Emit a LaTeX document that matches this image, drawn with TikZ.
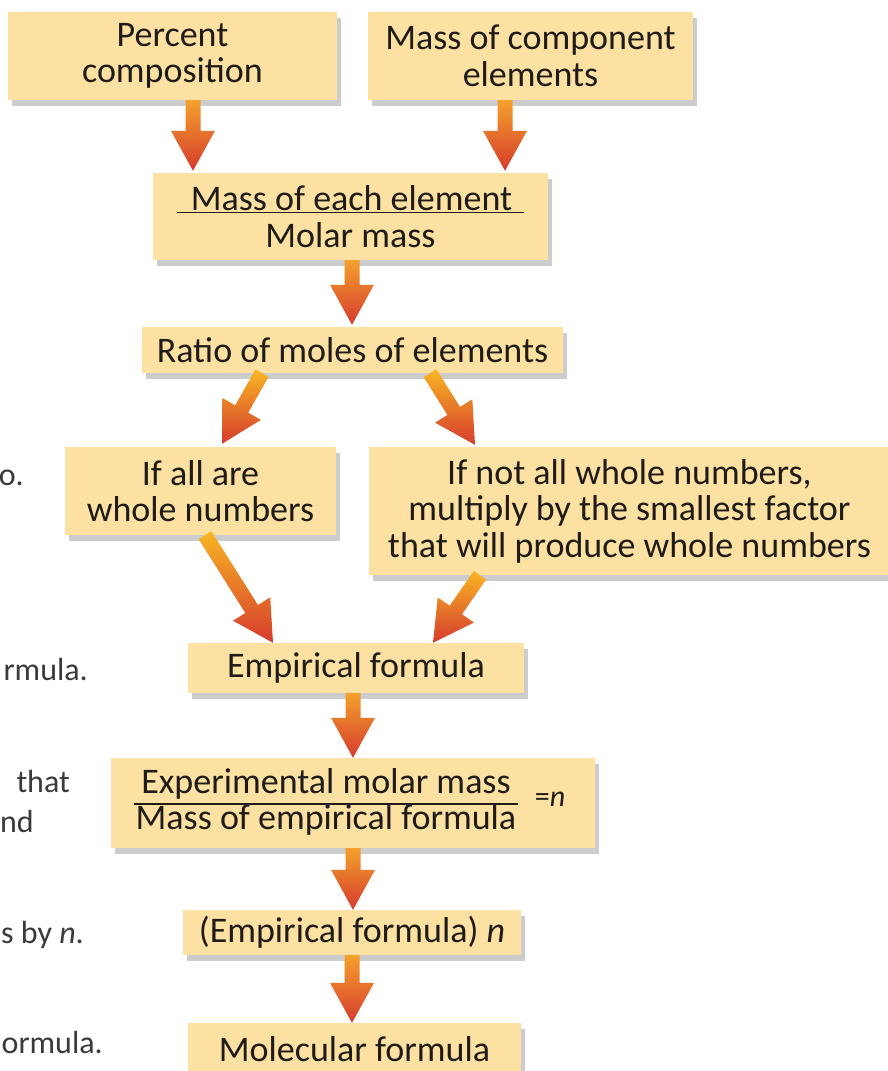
\documentclass[tikz,border=0pt]{standalone}
\usepackage{fontspec}
\setmainfont{Carlito}
\usetikzlibrary{calc,shadows}
\definecolor{boxfill}{HTML}{FCE1A3}
\definecolor{ink}{HTML}{1F1B18}
\definecolor{sidegray}{HTML}{3A3A3A}
\definecolor{arrtop}{HTML}{F4A02C}
\definecolor{arrtopy}{HTML}{F8B624}
\definecolor{arrmid}{HTML}{EC7A2E}
\definecolor{arrbot}{HTML}{D63B2D}
\tikzset{
  box/.style={fill=boxfill, draw=none, inner sep=0pt, align=center, text=ink,
    font=\fontsize{36}{36.5}\selectfont,
    drop shadow={shadow xshift=4pt, shadow yshift=-6pt, fill=black, opacity=0.2}},
  plaintext/.style={inner sep=0pt, text=ink, font=\fontsize{36}{36.5}\selectfont},
  sidetext/.style={anchor=base east, inner sep=0pt, text=sidegray, font=\fontsize{32}{36}\selectfont},
}
\newcommand{\fatarrow}[3][arrtop]{%
  \coordinate (fa-s) at #2;
  \coordinate (fa-t) at #3;
  \coordinate (fa-h) at ($(fa-t)!40pt!(fa-s)$);
  \shade[top color=#1, middle color=arrmid, bottom color=arrbot]
    ($(fa-s)!7.5pt!90:(fa-t)$) -- ($(fa-h)!7.5pt!90:(fa-t)$) -- ($(fa-h)!22pt!90:(fa-t)$)
    -- (fa-t) -- ($(fa-h)!22pt!-90:(fa-t)$) -- ($(fa-h)!7.5pt!-90:(fa-t)$)
    -- ($(fa-s)!7.5pt!-90:(fa-t)$) -- cycle;
}
\begin{document}
\begin{tikzpicture}[x=1pt,y=-1pt]
\useasboundingbox (0,0) rectangle (888,1071);
\fill[white] (0,0) rectangle (888,1071);
\clip (0,0) rectangle (888,1071);

% boxes
\node[box, minimum width=329pt, minimum height=88pt] (pc) at (172.5,56) {Percent\\composition};
\node[box, minimum width=325pt, minimum height=88pt] (mc) at (530.5,56) {Mass of component\\elements};
\node[box, minimum width=395pt, minimum height=87pt] (me) at (350.5,216.5)
  {\underline{\hspace{14pt}Mass of each element\hspace{12pt}}\\Molar mass};
\node[box, minimum width=421pt, minimum height=46pt] (ratio) at (352.5,350) {Ratio of moles of elements};
\node[box, minimum width=271pt, minimum height=88pt] (all) at (200.5,491) {If all are\\whole numbers};
\node[box, minimum width=521pt, minimum height=128pt] (notall) at (629.5,511)
  {If not all whole numbers,\\multiply by the smallest factor\\that will produce whole numbers};
\node[box, minimum width=336pt, minimum height=50pt] (emp) at (356,668) {Empirical formula};
\node[box, minimum width=484pt, minimum height=90pt] (exp) at (353,803) {};
\node[plaintext] (expfrac) at (326,804) {\renewcommand\arraystretch{0.85}\setlength\arrayrulewidth{1.5pt}%
  \begin{tabular}{@{\hspace{2pt}}c@{\hspace{2pt}}}Experimental molar mass\\\hline Mass of empirical formula\end{tabular}};
\node[plaintext, font=\fontsize{30}{32}\selectfont] (eqn) at (550,799) {=\textit{n}};
\node[box, minimum width=338pt, minimum height=45pt] (empn) at (352,932.5) {(Empirical formula) \textit{n}};
\node[box, minimum width=333pt, minimum height=52pt] (mol) at (354.5,1049) {Molecular formula};

% arrows
\coordinate (a1s) at ([xshift=20.5pt]pc.south);
\coordinate (a1t) at (a1s |- me.north);
\fatarrow{(a1s)}{([yshift=2pt]a1t)}
\coordinate (a2s) at ([xshift=-25.5pt]mc.south);
\coordinate (a2t) at (a2s |- me.north);
\fatarrow{(a2s)}{([yshift=2pt]a2t)}
\coordinate (a3s) at ([xshift=1.5pt]me.south);
\coordinate (a3t) at (a3s |- ratio.north);
\fatarrow{(a3s)}{([yshift=2pt]a3t)}
\fatarrow[arrtopy]{([xshift=-90.5pt]ratio.south)}{([xshift=21.5pt,yshift=3pt]all.north)}
\fatarrow[arrtopy]{([xshift=77.5pt]ratio.south)}{([xshift=-154.5pt,yshift=2pt]notall.north)}
\fatarrow[arrtopy]{([xshift=4.5pt]all.south)}{([xshift=-83pt]emp.north)}
\fatarrow[arrtopy]{([xshift=-149.5pt]notall.south)}{([xshift=77pt]emp.north)}
\coordinate (a8s) at ([xshift=-3pt]emp.south);
\coordinate (a8t) at (a8s |- exp.north);
\fatarrow{(a8s)}{(a8t)}
\coordinate (a9s) at (exp.south);
\coordinate (a9t) at (a9s |- empn.north);
\fatarrow{(a9s)}{(a9t)}
\coordinate (a10s) at (empn.south);
\coordinate (a10t) at (a10s |- mol.north);
\fatarrow{(a10s)}{(a10t)}

% cropped side text
\node[sidetext] (s1) at (24,485) {o.};
\node[sidetext] (s2) at (88,680) {rmula.};
\node[sidetext] (s3) at (70,792) {that};
\node[sidetext] (s4) at (34,832) {nd};
\node[sidetext] (s5) at (84,943) {s by \textit{n}.};
\node[sidetext] (s6) at (103,1053) {ormula.};
\end{tikzpicture}
\end{document}
